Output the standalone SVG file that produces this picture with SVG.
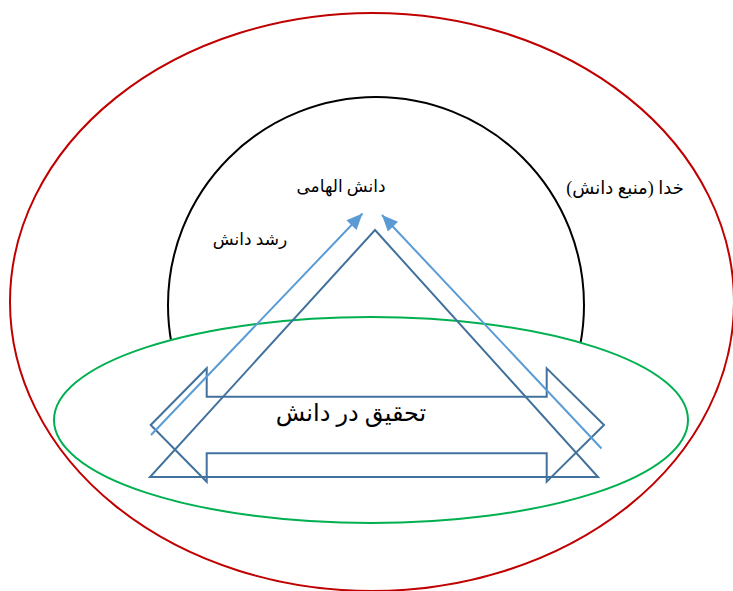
<svg xmlns="http://www.w3.org/2000/svg" width="733" height="591" viewBox="0 0 733 591">
<style>
.lbl{font-family:"Liberation Serif","DejaVu Serif","DejaVu Sans",serif;fill:#000;text-anchor:middle}
.dk{fill:none;stroke:#41719C;stroke-width:2;stroke-linejoin:miter}
.lt{fill:none;stroke:#5B9BD5;stroke-width:2}
</style>
<defs>
<marker id="ah" markerUnits="userSpaceOnUse" markerWidth="20" markerHeight="20" viewBox="0 0 20 20" refX="18" refY="10" orient="auto">
<path d="M2,3 L18,10 L2,17 Z" fill="#5B9BD5"/>
</marker>
</defs>
<rect width="733" height="591" fill="#fff"/>
<g id="god">
<ellipse cx="372" cy="302" rx="362" ry="289" fill="#fff" stroke="#C00000" stroke-width="2"/>
<text class="lbl" x="625" y="194" font-size="18">خدا (منبع دانش)</text>
</g>
<g id="inspired">
<circle cx="376" cy="305" r="208" fill="#fff" stroke="#000" stroke-width="2"/>
<text class="lbl" x="341" y="192" font-size="17">دانش الهامی</text>
<text class="lbl" x="250" y="245" font-size="17">رشد دانش</text>
</g>
<g id="research">
<ellipse cx="371" cy="420" rx="317" ry="103" fill="#fff" stroke="#00B050" stroke-width="2"/>
</g>
<g id="triangle">
<polygon class="dk" points="375,230 598,477 150,477"/>
</g>
<g id="hbar">
<polygon class="dk" points="150.7,425 206.7,368.3 206.7,396.7 546.7,396.7 546.7,368.3 604,425 546.7,481.7 546.7,453.3 206.7,453.3 206.7,481.7"/>
<text class="lbl" x="351" y="421" font-size="24">تحقیق در دانش</text>
</g>
<g id="connectors">
<line class="lt" x1="151" y1="435" x2="362.5" y2="213.5" marker-end="url(#ah)"/>
<line class="lt" x1="601.5" y1="448.5" x2="382" y2="215" marker-end="url(#ah)"/>
</g>
</svg>
